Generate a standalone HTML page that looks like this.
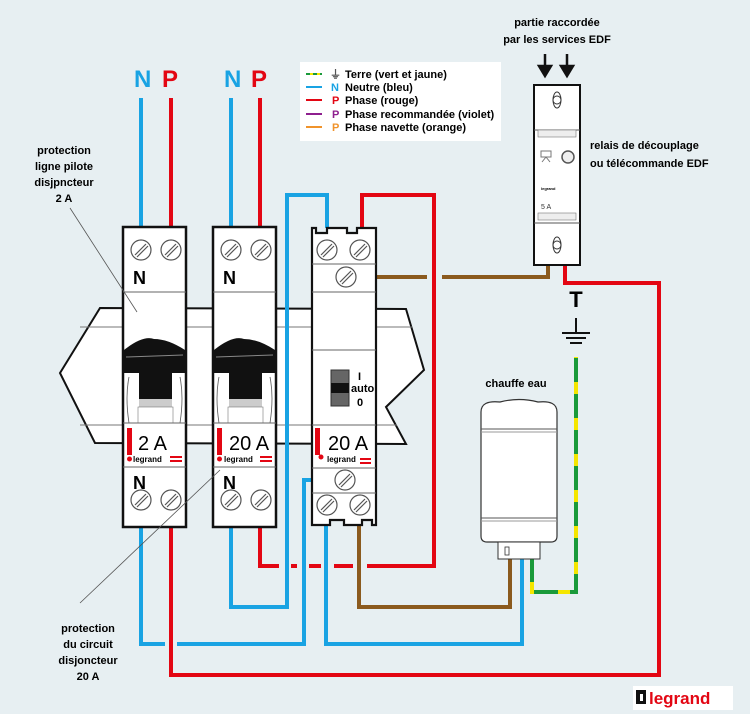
<!DOCTYPE html>
<html><head><meta charset="utf-8"><style>
html,body{margin:0;padding:0;background:#e7eff2;}
svg{display:block;font-family:"Liberation Sans",sans-serif;}
.b{font-weight:bold;}
</style></head><body>
<svg width="750" height="714" viewBox="0 0 750 714" xmlns="http://www.w3.org/2000/svg">
<defs>
<g id="screw"><circle r="10" fill="#fff" stroke="#555" stroke-width="1.2"/><line x1="-6" y1="5" x2="5" y2="-6" stroke="#555" stroke-width="1.2"/><line x1="-4" y1="7" x2="7" y2="-4" stroke="#555" stroke-width="1.2"/></g>
<g id="breaker">
<rect x="0" y="0" width="63" height="300" fill="#fff" stroke="#111" stroke-width="2.5"/>
<use href="#screw" x="18" y="23"/><use href="#screw" x="48" y="23"/>
<text x="10" y="57" font-size="18" class="b">N</text>
<line x1="0" y1="65" x2="63" y2="65" stroke="#666"/>
<path d="M1,123 Q20,108 31,112 Q45,112 62,123 L62,146 L1,146 Z" fill="#111"/>
<line x1="3" y1="130" x2="60" y2="128" stroke="#888"/>
<rect x="16" y="146" width="33" height="26" fill="#111"/>
<rect x="16" y="172" width="33" height="8" fill="#ccc"/>
<rect x="15" y="180" width="35" height="16" fill="#fff" stroke="#777" stroke-width="0.6"/>
<path d="M6,150 Q2,170 6,196 M57,150 Q61,170 57,196" fill="none" stroke="#555" stroke-width="0.8"/>
<line x1="0" y1="196" x2="63" y2="196" stroke="#666"/>
<rect x="4" y="201" width="5" height="27" fill="#e30613"/>
<circle cx="6.5" cy="232" r="2.5" fill="#e30613"/>
<line x1="0" y1="240" x2="63" y2="240" stroke="#666"/>
<text x="10" y="262" font-size="18" class="b">N</text>
<use href="#screw" x="18" y="273"/><use href="#screw" x="48" y="273"/>
</g>
</defs>

<!-- DIN rail -->
<path d="M100,308 L406,309 L424,370 L386,407 L406,444 L95,443 L60,373 Z" fill="#fff" stroke="#111" stroke-width="2"/>
<line x1="80" y1="327" x2="412" y2="327" stroke="#777"/>
<line x1="80" y1="425" x2="397" y2="425" stroke="#777"/>

<!-- wires -->
<g fill="none" stroke-width="4" stroke-linejoin="miter">
<line x1="141" y1="98" x2="141" y2="228" stroke="#19a3e3"/>
<line x1="171" y1="98" x2="171" y2="228" stroke="#e30613"/>
<line x1="231" y1="98" x2="231" y2="228" stroke="#19a3e3"/>
<line x1="260" y1="98" x2="260" y2="228" stroke="#e30613"/>
<polyline points="231,527 231,607 287,607 287,195 327,195 327,228" stroke="#19a3e3"/>
<polyline points="362,228 362,195 434,195 434,566 367,566" stroke="#e30613"/>
<line x1="260" y1="527" x2="260" y2="566" stroke="#e30613"/>
<g stroke="#e30613"><line x1="258" y1="566" x2="279" y2="566"/><line x1="291" y1="566" x2="297" y2="566"/><line x1="309" y1="566" x2="321" y2="566"/><line x1="334" y1="566" x2="353" y2="566"/></g>
<polyline points="345,480 304,480 304,644 177,644" stroke="#19a3e3"/>
<polyline points="165,644 141,644 141,527" stroke="#19a3e3"/>
<polyline points="171,527 171,675 659,675 659,283 565,283 565,266" stroke="#e30613"/>
<polyline points="326,522 326,644 522,644 522,558" stroke="#19a3e3"/>
<polyline points="359,522 359,607 510,607 510,558" stroke="#8b5a1e"/>
<polyline points="345,277 427,277" stroke="#8b5a1e"/>
<polyline points="442,277 548,277 548,266" stroke="#8b5a1e"/>
<polyline points="532,558 532,592 576,592 576,357" stroke="#f5e600"/>
<polyline points="532,558 532,592 576,592 576,357" stroke="#1a9a3a" stroke-dasharray="24 12"/>
</g>

<!-- breakers -->
<use href="#breaker" x="123" y="227"/>
<use href="#breaker" x="213" y="227"/>
<text x="138" y="450" font-size="20">2 A</text>
<text x="229" y="450" font-size="20">20 A</text>
<text x="133" y="462" font-size="8" class="b">legrand</text>
<rect x="170" y="456" width="12" height="2" fill="#e30613"/><rect x="170" y="460" width="12" height="2" fill="#e30613"/>
<text x="224" y="462" font-size="8" class="b">legrand</text>
<rect x="260" y="456" width="12" height="2" fill="#e30613"/><rect x="260" y="460" width="12" height="2" fill="#e30613"/>

<!-- contactor -->
<path d="M312,228 L316,228 L316,233 L327,233 L327,228 L347,228 L347,233 L357,233 L357,228 L376,228 L376,525 L372,525 L372,520 L362,520 L362,525 L344,525 L344,520 L330,520 L330,525 L312,525 Z" fill="#fff" stroke="#111" stroke-width="2.2"/>
<use href="#screw" x="327" y="250"/><use href="#screw" x="360" y="250"/>
<line x1="312" y1="264" x2="376" y2="264" stroke="#666"/>
<use href="#screw" x="346" y="277"/>
<line x1="312" y1="292" x2="376" y2="292" stroke="#666"/>
<line x1="312" y1="350" x2="376" y2="350" stroke="#666"/>
<rect x="331" y="370" width="18" height="36" fill="#666" stroke="#333"/>
<rect x="331" y="383" width="18" height="10" fill="#111"/>
<text x="358" y="380" font-size="11" class="b">I</text>
<text x="351" y="392" font-size="11" class="b">auto</text>
<text x="357" y="406" font-size="11" class="b">0</text>
<line x1="312" y1="425" x2="376" y2="425" stroke="#666"/>
<rect x="315" y="428" width="5" height="27" fill="#e30613"/>
<circle cx="321" cy="457" r="2.5" fill="#e30613"/>
<text x="328" y="450" font-size="20">20 A</text>
<text x="327" y="462" font-size="8" class="b">legrand</text>
<rect x="360" y="458" width="11" height="2" fill="#e30613"/><rect x="360" y="462" width="11" height="2" fill="#e30613"/>
<line x1="312" y1="468" x2="376" y2="468" stroke="#666"/>
<use href="#screw" x="345" y="480"/>
<line x1="312" y1="493" x2="376" y2="493" stroke="#666"/>
<use href="#screw" x="327" y="505"/><use href="#screw" x="360" y="505"/>

<!-- NP labels -->
<g class="b" font-size="24">
<text x="134" y="87" fill="#19a3e3">N</text><text x="162" y="87" fill="#e30613">P</text>
<text x="224" y="87" fill="#19a3e3">N</text><text x="251" y="87" fill="#e30613">P</text>
</g>

<!-- legend -->
<rect x="300" y="62" width="201" height="79" fill="#fff"/>
<g font-size="11" class="b">
<line x1="306" y1="74" x2="322" y2="74" stroke="#f5e600" stroke-width="2"/>
<line x1="306" y1="74" x2="322" y2="74" stroke="#1a9a3a" stroke-width="2" stroke-dasharray="4 3"/>
<text x="330" y="78" fill="#555">⏚</text><text x="345" y="78">Terre (vert et jaune)</text>
<line x1="306" y1="87" x2="322" y2="87" stroke="#19a3e3" stroke-width="2"/><text x="331" y="91" fill="#19a3e3">N</text><text x="345" y="91">Neutre (bleu)</text>
<line x1="306" y1="100" x2="322" y2="100" stroke="#e30613" stroke-width="2"/><text x="332" y="104" fill="#e30613">P</text><text x="345" y="104">Phase (rouge)</text>
<line x1="306" y1="114" x2="322" y2="114" stroke="#8e1f8e" stroke-width="2"/><text x="332" y="118" fill="#8e1f8e">P</text><text x="345" y="118">Phase recommandée (violet)</text>
<line x1="306" y1="127" x2="322" y2="127" stroke="#f0932b" stroke-width="2"/><text x="332" y="131" fill="#f0932b">P</text><text x="345" y="131">Phase navette (orange)</text>
</g>

<!-- relay -->
<g class="b" font-size="11" text-anchor="middle">
<text x="557" y="26">partie raccordée</text><text x="557" y="43">par les services EDF</text>
</g>
<path d="M545,54 V68 M539,66 L545,76 L551,66 Z M567,54 V68 M561,66 L567,76 L573,66 Z" fill="#111" stroke="#111" stroke-width="2.5"/>
<rect x="534" y="85" width="46" height="180" fill="#fff" stroke="#111" stroke-width="2"/>
<line x1="534" y1="130" x2="580" y2="130" stroke="#555"/><rect x="538" y="130" width="38" height="7" fill="#eee" stroke="#777" stroke-width="0.6"/>
<line x1="534" y1="223" x2="580" y2="223" stroke="#555"/><rect x="538" y="213" width="38" height="7" fill="#eee" stroke="#777" stroke-width="0.6"/>
<ellipse cx="557" cy="100" rx="4" ry="8" fill="#fff" stroke="#333"/><circle cx="557" cy="100" r="4" fill="#fff" stroke="#333"/>
<ellipse cx="557" cy="245" rx="4" ry="8" fill="#fff" stroke="#333"/><circle cx="557" cy="245" r="4" fill="#fff" stroke="#333"/>
<path d="M541,151 h10 v6 h-10 z M546,157 l-4,5 M546,157 l4,5" fill="none" stroke="#777"/>
<circle cx="568" cy="157" r="6" fill="#eee" stroke="#555" stroke-width="1.5"/>
<text x="541" y="190" font-size="4" class="b">legrand</text>
<text x="541" y="209" font-size="7" fill="#333">5 A</text>
<g class="b" font-size="11"><text x="590" y="149">relais de découplage</text><text x="590" y="167">ou télécommande EDF</text></g>

<!-- earth -->
<text x="576" y="307" text-anchor="middle" font-size="22" class="b">T</text>
<path d="M576,318 V333 M562,333 H590 M566,338 H586 M570,343 H582" stroke="#111" stroke-width="2" fill="none"/>

<!-- heater -->
<text x="516" y="387" text-anchor="middle" font-size="11" class="b">chauffe eau</text>
<path d="M481,412 Q481,400 500,402 Q519,397 538,402 Q557,400 557,412 L557,536 Q557,542 551,542 L487,542 Q481,542 481,536 Z" fill="#fff" stroke="#333" stroke-width="1.2"/>
<line x1="481" y1="429" x2="557" y2="429" stroke="#555"/><line x1="481" y1="432" x2="557" y2="432" stroke="#999"/>
<line x1="481" y1="518" x2="557" y2="518" stroke="#555"/><line x1="481" y1="521" x2="557" y2="521" stroke="#999"/>
<rect x="498" y="542" width="42" height="17" fill="#fff" stroke="#333"/>
<rect x="505" y="547" width="4" height="8" fill="#fff" stroke="#333" stroke-width="0.8"/>

<!-- annotations -->
<g class="b" font-size="11" text-anchor="middle">
<text x="64" y="154">protection</text><text x="64" y="170">ligne pilote</text><text x="64" y="186">disjpncteur</text><text x="64" y="202">2 A</text>
<text x="88" y="632">protection</text><text x="88" y="648">du circuit</text><text x="88" y="664">disjoncteur</text><text x="88" y="680">20 A</text>
</g>
<line x1="70" y1="208" x2="137" y2="312" stroke="#555" stroke-width="0.8"/>
<line x1="80" y1="603" x2="220" y2="470" stroke="#555" stroke-width="0.8"/>

<!-- logo -->
<rect x="633" y="686" width="100" height="24" fill="#fff"/>
<path d="M636,690 h10 v14 h-10 z M640,694 h3 v7 h-3z" fill="#111" fill-rule="evenodd"/>
<text x="649" y="704" font-size="17" class="b" fill="#e30613">legrand</text>
</svg>
</body></html>
